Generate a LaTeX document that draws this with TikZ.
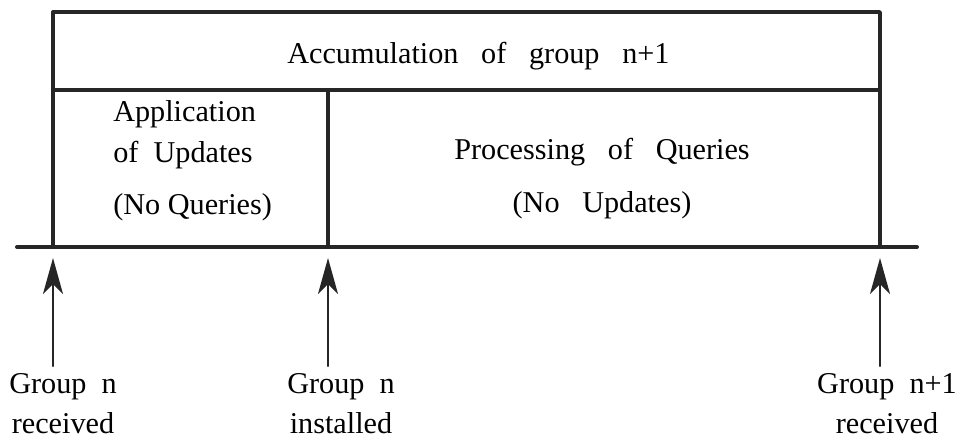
\documentclass[tikz,border=0pt]{standalone}
\usepackage{fontspec}
\setmainfont{Liberation Serif}
\usetikzlibrary{arrows.meta, positioning, calc}

\begin{document}
\begin{tikzpicture}[>=Stealth, line cap=round, line join=round]
    % Styles
    \tikzset{
        boxline/.style={line width=2.4pt, black!85},
        timeline/.style={line width=2.8pt, black!85},
        event/.style={line width=1.6pt, black!85, -{Stealth[length=9mm, width=5mm, inset=2.5mm]}},
        txt/.style={font=\fontsize{21.5}{28.5}\selectfont, inner sep=0pt, align=center}
    }

    \useasboundingbox (0,0) rectangle (24.025,-11.175);

    % --- Time line ---
    \coordinate (T_start) at (0.425,-6.175);
    \coordinate (T_end) at (22.925,-6.175);
    \draw[timeline] (T_start) -- (T_end);

    % --- Boxes ---
    \coordinate (Acc_nw) at (1.325,-0.3);
    \coordinate (Acc_se) at (22.0,-2.25);
    \coordinate (Div_top) at (8.2,-2.25);
    \coordinate (Div_bot) at (8.2,-6.175);

    \draw[boxline] (Acc_nw |- T_start) -- (Acc_nw) -- (Acc_nw -| Acc_se) -- (Acc_se |- T_start);
    \draw[boxline] (Acc_nw |- Acc_se) -- (Acc_se);
    \draw[boxline] (Div_top) -- (Div_bot);

    \node[txt, anchor=north] (acc) at (11.96,-1.05) {Accumulation~~~of~~~group~~~n+1};
    \node[txt, anchor=north west, align=left, font=\fontsize{21.5}{29.5}\selectfont] (apply) at (2.825,-2.5)
        {Application\\of~~Updates\\[7pt](No Queries)};
    \node[txt, anchor=north, font=\fontsize{21.5}{38}\selectfont] (proc) at (15.05,-3.45)
        {Processing~~~of~~~Queries\\(No~~~Updates)};

    % --- Group n received ---
    \coordinate (E1_tip) at (1.325,-6.45);
    \coordinate (E1_tail) at (1.325,-9.15);
    \draw[event] (E1_tail) -- (E1_tip);
    \node[txt, anchor=north] (recv_n) at (1.575,-9.33) {Group~~n\\received};

    % --- Group n installed ---
    \coordinate (E2_tip) at (8.2,-6.45);
    \coordinate (E2_tail) at (8.2,-9.15);
    \draw[event] (E2_tail) -- (E2_tip);
    \node[txt, anchor=north] (inst_n) at (8.525,-9.33) {Group~~n\\installed};

    % --- Group n+1 received ---
    \coordinate (E3_tip) at (22.0,-6.45);
    \coordinate (E3_tail) at (22.0,-9.15);
    \draw[event] (E3_tail) -- (E3_tip);
    \node[txt, anchor=north] (recv_n1) at (22.175,-9.33) {Group~~n+1\\received};

\end{tikzpicture}
\end{document}
